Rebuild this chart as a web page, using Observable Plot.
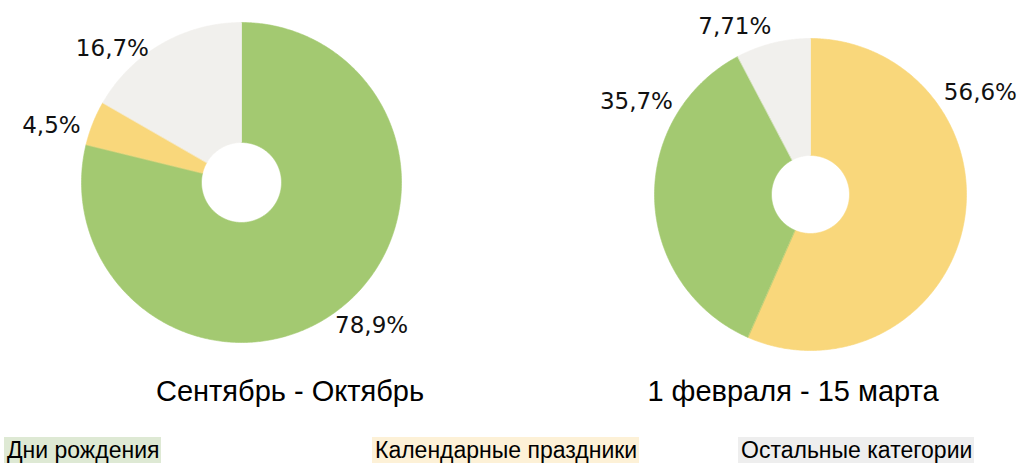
<!DOCTYPE html>
<html>
<head>
<meta charset="utf-8">
<script src="https://cdn.jsdelivr.net/npm/d3@7"></script>
<script src="https://cdn.jsdelivr.net/npm/@observablehq/plot@0.6"></script>
<style>
  html, body { margin: 0; padding: 0; background: #fff; }
  body { width: 1024px; height: 470px; position: relative; overflow: hidden; font-family: "Liberation Sans", Arial, sans-serif; color: #000; }
  .chart { position: absolute; top: 0; }
  .title { position: absolute; font-size: 29px; line-height: 29px; white-space: nowrap; transform: translateX(-50%); }
  .legend { position: absolute; top: 437px; height: 26px; line-height: 27px; font-size: 23px; padding: 0 2px 0 3px; white-space: nowrap; }
</style>
</head>
<body>
<div id="c0" class="chart" style="left:0"></div>
<div id="c1" class="chart" style="left:512px"></div>
<div id="t0" class="title" style="left:290px; top:377px"></div>
<div id="t1" class="title" style="left:793px; top:377px"></div>
<div id="lg"></div>
<script>
// ---- data ----
const categories = ["Дни рождения", "Календарные праздники", "Остальные категории"];
const periods = ["Сентябрь - Октябрь", "1 февраля - 15 марта"];
const septOctValues = [78.9, 4.5, 16.7];        // by category
const febMarValues = [35.7, 56.6, 7.71];        // by category
const septOctLabels = ["78,9%", "4,5%", "16,7%"];
const febMarLabels = ["35,7%", "56,6%", "7,71%"];
const septOctOrder = [0, 1, 2];                 // clockwise slice order from 12 o'clock
const febMarOrder = [1, 0, 2];

// ---- styles / layout ----
const colors = ["#a3c971", "#f9d77b", "#f1f0ed"];
const legendBg = ["#dee9d4", "#fdf1d7", "#eeeeee"];
const innerRatio = 0.25;
const layouts = [
  {xr: [81, 401], yr: [342, 22], shift: [-4.2, -5.2, -13.9], dist: [1.208, 1.24, 1.163]},
  {xr: [142, 454], yr: [350, 38], shift: [30.1, -42.9, -10.4], dist: [1.265, 1.271, 1.18]}
];

function donut(values, labels, order, lay) {
  const slices = order.map(i => ({cat: i, value: values[i], label: labels[i]}));
  const arcs = d3.pie().sort(null).value(d => d.value)(slices);
  const marks = [];
  const labelData = [];
  arcs.forEach(a => {
    const pts = [];
    const n = Math.max(4, Math.ceil((a.endAngle - a.startAngle) / 0.01));
    for (let k = 0; k <= n; k++) {
      const t = a.startAngle + (a.endAngle - a.startAngle) * k / n;
      pts.push({x: Math.sin(t), y: Math.cos(t)});
    }
    for (let k = n; k >= 0; k--) {
      const t = a.startAngle + (a.endAngle - a.startAngle) * k / n;
      pts.push({x: innerRatio * Math.sin(t), y: innerRatio * Math.cos(t)});
    }
    const c = a.data.cat;
    marks.push(Plot.line(pts, {x: "x", y: "y", fill: colors[c], stroke: colors[c], strokeWidth: 0.6, curve: "linear-closed"}));
    const mid = (a.startAngle + a.endAngle) / 2 + lay.shift[c] * Math.PI / 180;
    labelData.push({x: lay.dist[c] * Math.sin(mid), y: lay.dist[c] * Math.cos(mid), text: a.data.label});
  });
  marks.push(Plot.text(labelData, {x: "x", y: "y", text: "text", fontSize: 23, fontFamily: "DejaVu Sans", fill: "#111"}));
  return Plot.plot({
    width: 512, height: 420, margin: 0,
    x: {domain: [-1, 1], range: lay.xr, axis: null},
    y: {domain: [-1, 1], range: lay.yr, axis: null},
    style: {background: "transparent", overflow: "visible"},
    marks
  });
}

document.getElementById("c0").appendChild(donut(septOctValues, septOctLabels, septOctOrder, layouts[0]));
document.getElementById("c1").appendChild(donut(febMarValues, febMarLabels, febMarOrder, layouts[1]));
document.getElementById("t0").textContent = periods[0];
document.getElementById("t1").textContent = periods[1];

const legendLeft = [4, 372, 738];
const lg = document.getElementById("lg");
categories.forEach((c, i) => {
  const s = document.createElement("div");
  s.className = "legend";
  s.style.left = legendLeft[i] + "px";
  s.style.background = legendBg[i];
  s.textContent = c;
  lg.appendChild(s);
});
</script>
</body>
</html>
